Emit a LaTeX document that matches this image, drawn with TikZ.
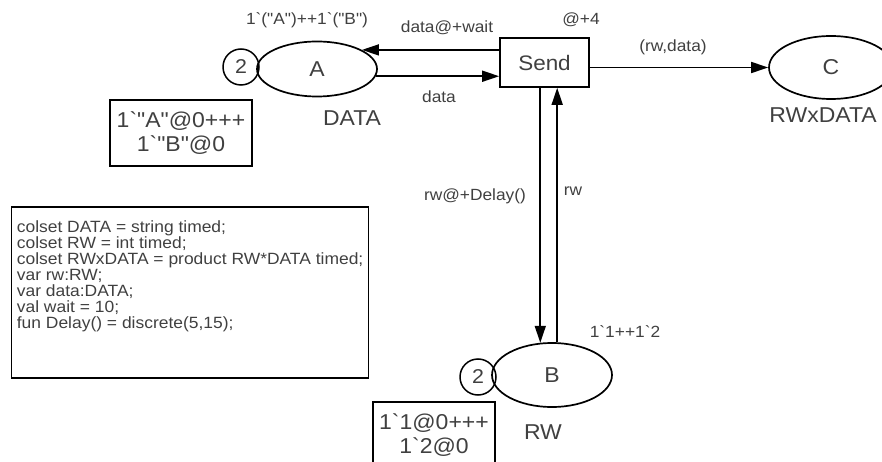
\documentclass[tikz,border=0pt]{standalone}
\usepackage{fontspec}
\setmainfont{Liberation Sans}[Ligatures=TeXOff,FakeStretch=1.07]
\usepackage{tikz}
\usetikzlibrary{arrows.meta,positioning,shapes.geometric}
\definecolor{inkgray}{gray}{0.25}
\tikzset{
  place/.style={draw,ellipse,line width=1.7pt,inner sep=0pt,
                font=\fontsize{21.5}{21.5}\selectfont,text=inkgray},
  trans/.style={draw,rectangle,line width=1.7pt,inner sep=0pt,
                minimum width=89pt,minimum height=49pt,
                font=\fontsize{21}{21}\selectfont,text=inkgray},
  tokc/.style={draw,circle,line width=1.5pt,minimum size=36pt,inner sep=0pt,
               font=\fontsize{20}{20}\selectfont,text=inkgray},
  markbox/.style={draw,line width=1.7pt,align=center,inner sep=0pt,
                  font=\fontsize{21.5}{24}\selectfont,text=inkgray},
  lbl/.style={font=\fontsize{16.2}{16.2}\selectfont,text=inkgray},
  plbl/.style={font=\fontsize{21.5}{21.5}\selectfont,text=inkgray},
  arc/.style={line width=1.7pt,-{Triangle[length=17pt,width=11pt]}},
}

\begin{document}
\begin{tikzpicture}[x=1pt, y=-1pt]
  \clip (0,0) rectangle (882,462);
  % places and transition
  \node[place,minimum width=120pt,minimum height=55pt] (A) at (317,69) {A};
  \node[place,minimum width=124pt,minimum height=63pt] (C) at (831,67.5) {C};
  \node[place,minimum width=120pt,minimum height=64pt] (B) at (552,375) {B};
  \node[trans] (send) at (544.5,62.5) {Send};
  \node[tokc] (nA) at (241,67) {2};
  \node[tokc] (nB) at (478,377) {2};
  \node[markbox,minimum width=142pt,minimum height=66pt] (mA) at (181,133)
       {1`"A"@0+++\\1`"B"@0};
  \node[markbox,minimum width=122pt,minimum height=66pt] (mB) at (434,435)
       {1`1@0+++\\1`2@0};
  % declarations
  \node[draw,line width=1.7pt,minimum width=357pt,minimum height=171pt] (decl)
       at (190,292.5) {};
  \node[anchor=north west,align=left,inner sep=0pt,text=inkgray,
        font=\fontsize{16.3}{16}\selectfont] (decls)
       at ([xshift=6pt,yshift=-14pt]decl.north west)
       {colset DATA = string timed;\\
        colset RW = int timed;\\
        colset RWxDATA = product RW*DATA timed;\\
        var rw:RW;\\
        var data:DATA;\\
        val wait = 10;\\
        fun Delay() = discrete(5,15);};
  % arcs
  \draw[arc] (A.23.6 -| send.west) -- (A.23.6);
  \draw[arc] (A.-7.9) -- (A.-7.9 -| send.west);
  \draw[arc] (send.east |- C.west) -- (C.west);
  \draw[arc] (B.110.9 |- send.south) -- (B.110.9);
  \draw[arc] (B.81.1) -- (B.81.1 |- send.south);
  % inscriptions
  \node[lbl] (iA) at (307,20) {1`("A")++1`("B")};
  \node[lbl] (e1) at (447,28) {data@+wait};
  \node[lbl] (tt) at (581,20) {@+4};
  \node[lbl] (e2) at (439,97) {data};
  \node[lbl] (e3) at (673,47) {(rw,data)};
  \node[lbl] (e4) at (475,196) {rw@+Delay()};
  \node[lbl] (e5) at (573,191) {rw};
  \node[lbl] (iB) at (625,332) {1`1++1`2};
  \node[plbl] (tA) at (352,118) {DATA};
  \node[plbl] (tC) at (823,115) {RWxDATA};
  \node[plbl] (tB) at (543,432) {RW};
\end{tikzpicture}
\end{document}
